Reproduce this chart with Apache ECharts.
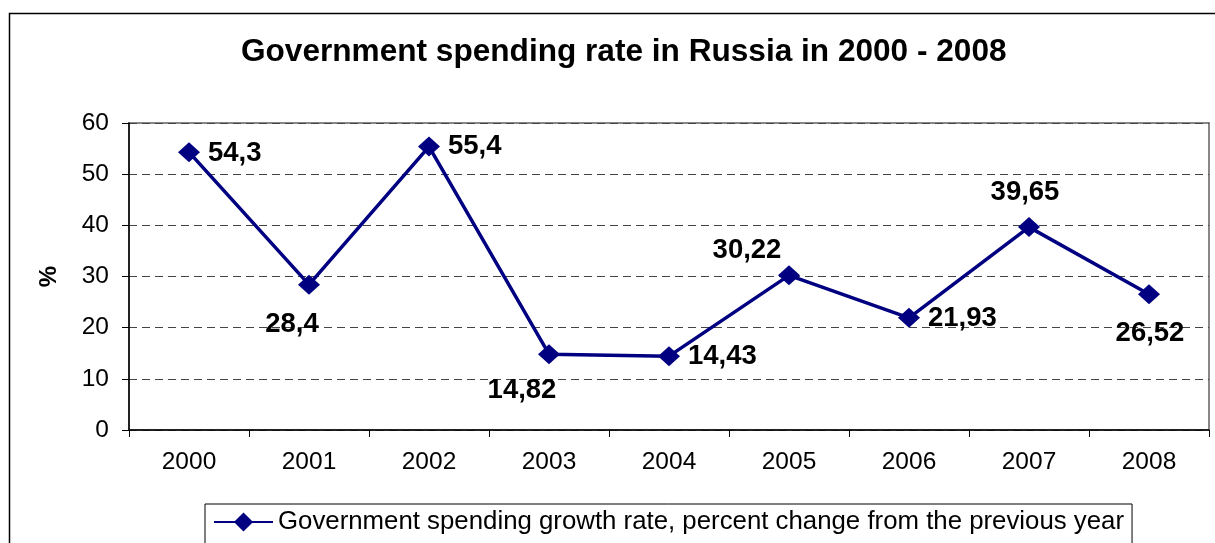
<!DOCTYPE html>
<html>
<head>
<meta charset="utf-8">
<script src="https://cdn.jsdelivr.net/npm/echarts@6/dist/echarts.min.js"></script>
<style>
  html, body { margin: 0; padding: 0; background: #fff; }
  #chart { width: 1215px; height: 543px; }
</style>
</head>
<body>
<div id="chart"></div>
<script>
(function() {
    var myChart = echarts.init(document.getElementById('chart'));

    // years and growth values (%)
    var years = ['2000', '2001', '2002', '2003', '2004', '2005', '2006', '2007', '2008'];
    var growth = [54.3, 28.4, 55.4, 14.82, 14.43, 30.22, 21.93, 39.65, 26.52];

    // where each value label sits relative to its marker
    var labelPlace = ['right', 'inside', 'right', 'inside', 'right', 'inside', 'right', 'inside', 'inside'];
    var labelShift = [[0, 1], [-17, 40], [0, 0], [-27, 36], [0, 0], [-42, -25], [0, 1], [-4, -35], [1, 39]];

    var seriesData = growth.map(function(v, i) {
        return {
            value: v,
            label: {
                position: labelPlace[i],
                offset: labelShift[i]
            }
        };
    });

    var option = {
        backgroundColor: '#fff',
        animation: false,
        title: {
            text: 'Government spending rate in Russia in 2000 - 2008',
            left: 236,
            top: 31,
            textStyle: {
                fontFamily: 'Liberation Sans, Arial, sans-serif',
                fontSize: 31.6,
                fontWeight: 'bold',
                color: '#000'
            }
        },
        graphic: [{
            type: 'rect',
            shape: { x: 9.5, y: 13.5, width: 1300, height: 700 },
            style: { fill: 'none', stroke: '#000', lineWidth: 1.5 },
            silent: true,
            z: -1
        }],
        legend: {
            left: 205,
            top: 504,
            padding: [5, 8, 10, 8],
            borderColor: '#000',
            borderWidth: 1,
            itemWidth: 59,
            itemHeight: 24,
            itemGap: 5,
            textStyle: {
                fontFamily: 'Liberation Sans, Arial, sans-serif',
                fontSize: 25.8,
                color: '#000'
            },
            data: ['Government spending growth rate, percent change from the previous year']
        },
        grid: {
            left: 129,
            right: 6,
            top: 123,
            bottom: 113,
            show: true,
            borderColor: '#888',
            borderWidth: 2
        },
        xAxis: {
            type: 'category',
            data: years,
            boundaryGap: true,
            axisLine: { lineStyle: { color: '#000', width: 1.5 } },
            axisTick: { show: true, interval: 0, length: 7, lineStyle: { color: '#000' } },
            axisLabel: {
                margin: 20,
                fontFamily: 'Liberation Sans, Arial, sans-serif',
                fontSize: 24.5,
                color: '#000'
            },
            splitLine: { show: false }
        },
        yAxis: {
            type: 'value',
            min: 0,
            max: 60,
            interval: 10,
            name: '%',
            nameLocation: 'middle',
            nameRotate: 90,
            nameGap: 68,
            nameTextStyle: {
                fontFamily: 'Liberation Sans, Arial, sans-serif',
                fontSize: 24,
                fontWeight: 'bold',
                color: '#000'
            },
            axisLine: { show: true, lineStyle: { color: '#000', width: 1.5 } },
            axisTick: { show: true, length: 7, lineStyle: { color: '#000' } },
            axisLabel: {
                margin: 20,
                fontFamily: 'Liberation Sans, Arial, sans-serif',
                fontSize: 24.5,
                color: '#000'
            },
            splitLine: {
                show: true,
                lineStyle: { color: '#444', type: [8, 5], width: 1 }
            }
        },
        series: [{
            name: 'Government spending growth rate, percent change from the previous year',
            type: 'line',
            data: seriesData,
            symbol: 'diamond',
            symbolSize: [22, 20],
            lineStyle: { color: '#000080', width: 3.5 },
            itemStyle: { color: '#000080' },
            label: {
                show: true,
                distance: 8,
                fontFamily: 'Liberation Sans, Arial, sans-serif',
                fontSize: 27.5,
                fontWeight: 'bold',
                color: '#000',
                formatter: function(p) {
                    return String(p.value).replace('.', ',');
                }
            }
        }]
    };

    myChart.setOption(option);
})();
</script>
</body>
</html>
